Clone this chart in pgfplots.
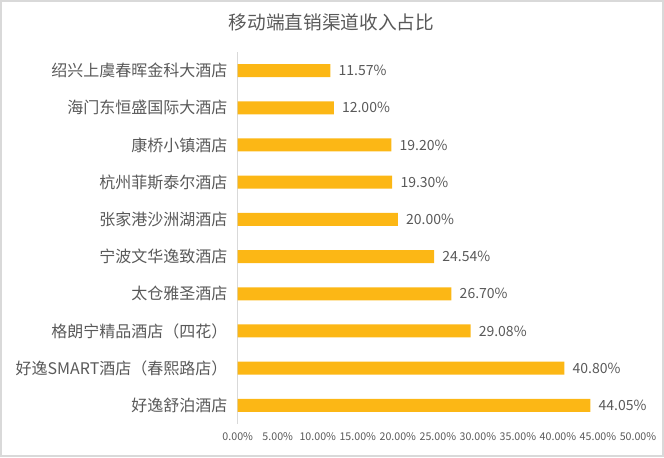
\documentclass[border=0pt]{standalone}
\usepackage{fontspec}
\setmainfont{Noto Sans CJK SC}
\usepackage{pgfplots}
\pgfplotsset{compat=1.18}
\definecolor{bargold}{RGB}{252,183,21}
\definecolor{txtgray}{RGB}{89,89,89}
\definecolor{linegray}{RGB}{217,217,217}
\begin{document}
\begin{tikzpicture}[x=0.75pt,y=0.75pt]
\useasboundingbox (0,0) rectangle (664,457);
\draw[linegray,line width=1pt] (1,1) rectangle (663,456);
\node[txtgray,font=\fontsize{14pt}{16pt}\selectfont] at (331.5,435) {移动端直销渠道收入占比};
\begin{axis}[
  at={(178.3pt,24.75pt)}, anchor=south west,
  scale only axis, width=300.2pt, height=279pt,
  xbar, bar width=9.75pt, bar shift=0pt,
  xmin=0, xmax=50, ymin=-0.5, ymax=9.5,
  axis x line*=bottom,
  axis y line*=left,
  x axis line style={draw=none},
  y axis line style={linegray, line width=0.75pt, -},
  ytick={0,...,9},
  yticklabels={好逸舒泊酒店,好逸SMART酒店（春熙路店）,格朗宁精品酒店（四花）,太仓雅圣酒店,宁波文华逸致酒店,张家港沙洲湖酒店,杭州菲斯泰尔酒店,康桥小镇酒店,海门东恒盛国际大酒店,绍兴上虞春晖金科大酒店},
  major tick length=0pt,
  yticklabel style={txtgray, font=\fontsize{12pt}{14pt}\selectfont, inner sep=0pt, xshift=-7.5pt},
  xtick={0,5,...,50},
  xticklabels={0.00\%,5.00\%,10.00\%,15.00\%,20.00\%,25.00\%,30.00\%,35.00\%,40.00\%,45.00\%,50.00\%},
  xticklabel style={txtgray, font=\fontsize{8pt}{9pt}\selectfont, anchor=north, inner sep=0pt, yshift=-6pt},
  point meta=x,
  nodes near coords={\pgfmathprintnumber[fixed,fixed zerofill,precision=2]{\pgfplotspointmeta}\%},
  nodes near coords style={txtgray, font=\fontsize{10.5pt}{12pt}\selectfont, anchor=west, inner sep=0pt, xshift=6pt},
  /pgf/number format/assume math mode=true,
  clip=false,
]
\addplot[fill=bargold, draw=none] coordinates {
(44.05,0) (40.80,1) (29.08,2) (26.70,3) (24.54,4) (20.00,5) (19.30,6) (19.20,7) (12.00,8) (11.57,9)
};
\end{axis}
\end{tikzpicture}
\end{document}
